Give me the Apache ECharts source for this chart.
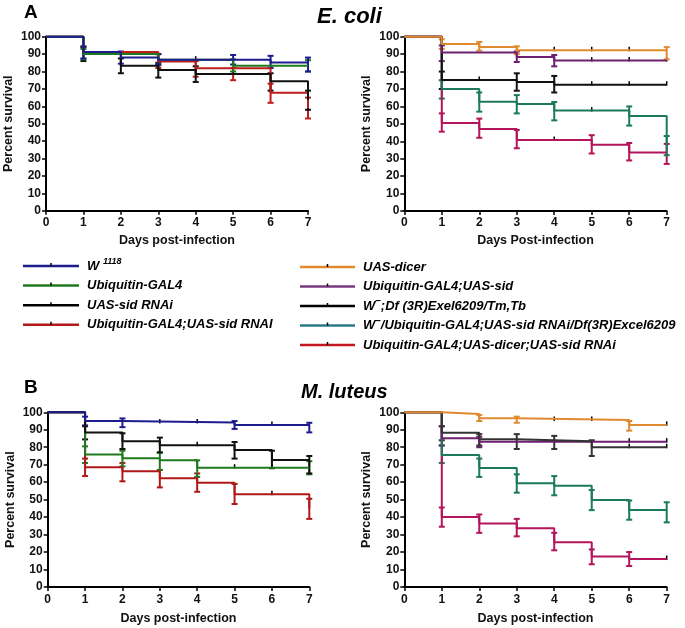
<!DOCTYPE html>
<html><head><meta charset="utf-8">
<script src="https://cdn.jsdelivr.net/npm/echarts/dist/echarts.min.js"></script>
<style>html,body{margin:0;padding:0;background:#fff}#c{width:685px;height:628px}</style>
</head><body><div id="c"></div>
<script>
// ---------- DATA ----------
const dayTicks = [0,1,2,3,4,5,6,7];
const yTicks = [0,10,20,30,40,50,60,70,80,90,100];

// Panel A left (E. coli)
const A_W1118 = [[0,100],[1,91.2],[2,88.1],[3,86.8],[6,85.2],[7,85.2]];
const A_W1118_err = [[1,87.5,94.5],[2,84.5,91.5],[3,84,90],[5,84,89.5],[6,82,89],[7,80,88]];
const A_W1118_cens = [4];
const A_UbiGal4 = [[0,100],[1,90],[3,86.7],[5,83.3],[7,83.3]];
const A_UbiGal4_err = [[1,87,93],[3,83.5,90],[5,80,87],[7,80,86.5]];
const A_UbiGal4_cens = [];
const A_UASsid = [[0,100],[1,90],[2,83.3],[3,80.8],[4,78.6],[6,74.4],[7,63.6]];
const A_UASsid_err = [[1,86,94],[2,79,87.5],[3,76.5,85],[4,74,83],[6,69,79],[7,58,69]];
const A_UASsid_cens = [5];
const A_UbiSid = [[0,100],[1,91.2],[3,85.8],[4,81.8],[6,67.8],[7,59]];
const A_UbiSid_err = [[3,82,90],[4,77,86],[5,75,82],[6,62,73],[7,53,65]];
const A_UbiSid_cens = [];

// Panel A right (E. coli)
const A_Dicer = [[0,100],[1,95.8],[2,94.1],[3,92.2],[7,92.2]];
const A_Dicer_err = [[1,93,98.5],[2,92,97],[3,90,94.5],[7,87,94]];
const A_Dicer_cens = [4,5,6];
const A_UbiUASsid = [[0,100],[1,91],[3,88.4],[4,86.3],[7,86.3]];
const A_UbiUASsid_err = [[1,86,95],[3,85.5,91.5],[4,83,89.5]];
const A_UbiUASsid_cens = [5,6,7];
const A_Df = [[0,100],[1,75.2],[3,74],[4,72.5],[7,72.5]];
const A_Df_err = [[1,70,80],[3,69,79],[4,68,77.5]];
const A_Df_cens = [2,5,6,7];
const A_WUbiDf = [[0,100],[1,70],[2,62.7],[3,61.4],[4,57.6],[6,54.5],[7,37.5]];
const A_WUbiDf_err = [[1,64.5,75],[2,57,68],[3,56,66.5],[4,52,62.5],[6,49,60],[7,32,43]];
const A_WUbiDf_cens = [5];
const A_UbiDicerSid = [[0,100],[1,50.5],[2,47],[3,40.7],[5,38],[6,33.6],[7,33.6]];
const A_UbiDicerSid_err = [[1,45.5,56],[2,42,53],[3,36,46.5],[5,33,43.5],[6,29,39],[7,27,38.5]];
const A_UbiDicerSid_cens = [4];

// Panel B left (M. luteus)
const B_W1118 = [[0,100],[1,95],[2,94.1],[5,92.7],[7,92.7]];
const B_W1118_err = [[1,92.5,97.5],[2,91.5,96.5],[5,90.5,95],[7,88.5,94]];
const B_W1118_cens = [3,4,6];
const B_UbiGal4 = [[0,100],[1,75.8],[2,73.7],[3,72.5],[4,68.3],[7,68.3]];
const B_UbiGal4_err = [[1,71,80.5],[2,69,78],[3,67,77],[4,63,72.5],[7,64.5,72]];
const B_UbiGal4_cens = [5,6];
const B_UASsid = [[0,100],[1,88.4],[2,83.4],[3,81.1],[5,78.4],[6,72.7],[7,72.7]];
const B_UASsid_err = [[1,84.5,92],[2,79,88],[3,77,85.5],[5,73.5,83],[6,68,78],[7,65,75]];
const B_UASsid_cens = [4];
const B_UbiSid = [[0,100],[1,68.5],[2,66.2],[3,62.2],[4,59.7],[5,53.1],[7,45]];
const B_UbiSid_err = [[1,63.5,73.5],[2,60.5,71],[3,57,67],[4,54.5,65],[5,47.5,59],[7,39,50.5]];
const B_UbiSid_cens = [6];

// Panel B right (M. luteus)
const B_Dicer = [[0,100],[1,99],[2,96.6],[3,95.6],[6,92.8],[7,92.8]];
const B_Dicer_err = [[2,95,98.5],[3,94,97.5],[6,89.5,95]];
const B_Dicer_cens = [4,5,7];
const B_UbiUASsid = [[0,100],[1,85.1],[2,83.2],[7,83.2]];
const B_UbiUASsid_err = [[1,81,92],[2,80,86]];
const B_UbiUASsid_cens = [6,7];
const B_Df = [[0,100],[1,88.3],[2,84.6],[3,83.5],[5,80],[7,80]];
const B_Df_err = [[1,84,92],[2,81,87.5],[3,79,87.5],[4,79,86.5],[5,75,84]];
const B_Df_cens = [6,7];
const B_WUbiDf = [[0,100],[1,75.6],[2,68.1],[3,59.4],[4,58],[5,49.8],[6,44.1],[7,44.1]];
const B_WUbiDf_err = [[1,71,81],[2,63,73.5],[3,54,64.5],[4,52.5,63.5],[5,44,55.5],[6,38.5,49.5],[7,37,48.5]];
const B_WUbiDf_cens = [];
const B_UbiDicerSid = [[0,100],[1,40],[2,36.3],[3,33.6],[4,25.6],[5,17.4],[6,16],[7,16]];
const B_UbiDicerSid_err = [[1,34.5,45.5],[2,31,41.5],[3,29,39],[4,21,31],[5,13,21.5],[6,12,20]];
const B_UbiDicerSid_cens = [7];

const leftLegend = ['W {sup|1118}','Ubiquitin-GAL4','UAS-sid RNAi','Ubiquitin-GAL4;UAS-sid RNAI'];
const rightLegend = ['UAS-dicer','Ubiquitin-GAL4;UAS-sid','W{dash|–};Df (3R)Exel6209/Tm,Tb',
  'W{dash|–}/Ubiquitin-GAL4;UAS-sid RNAi/Df(3R)Excel6209','Ubiquitin-GAL4;UAS-dicer;UAS-sid RNAi'];

// ---------- STYLE ----------
const C = {blue:'#1c1c8e', green:'#1f7a1f', black:'#111111', red:'#bf1c1c',
  orange:'#df8a2e', purple:'#6e1f70', black2:'#222222', teal:'#1b7a5a', crimson:'#b3145c'};
const leftLegColors = [C.blue, C.green, '#000', '#b31a1a'];
const rightLegColors = ['#e08a30', '#7a3a80', '#000', '#2a7a8a', '#c0181e'];

const grids = [
  {left:46, top:36.7, width:262, height:174},
  {left:404.3, top:36.7, width:262.4, height:174.3},
  {left:47.7, top:412.3, width:261.6, height:174.7},
  {left:404.3, top:412.3, width:262.4, height:174.7}
];
const xNames = ['Days post-infection','Days Post-infection','Days post-infection','Days post-infection'];
const FONT = '"Liberation Sans", Arial, sans-serif';

function valueAt(pts, d){ let v = pts[0][1]; for(const p of pts){ if(p[0] <= d) v = p[1]; } return v; }

const series = [];
function km(g, color, pts, err, cens){
  series.push({type:'line', xAxisIndex:g, yAxisIndex:g, data:pts, step:'end', showSymbol:false,
    clip:false, lineStyle:{color, width:2}, itemStyle:{color}, silent:true});
  series.push({type:'custom', xAxisIndex:g, yAxisIndex:g, data:err, clip:false, silent:true,
    encode:{x:0, y:[1,2]},
    renderItem(params, api){
      const x = api.value(0), p1 = api.coord([x, api.value(1)]), p2 = api.coord([x, api.value(2)]);
      const st = {stroke:color, lineWidth:2};
      return {type:'group', children:[
        {type:'line', shape:{x1:p1[0], y1:p1[1], x2:p2[0], y2:p2[1]}, style:st},
        {type:'line', shape:{x1:p1[0]-3, y1:p1[1], x2:p1[0]+3, y2:p1[1]}, style:st},
        {type:'line', shape:{x1:p2[0]-3, y1:p2[1], x2:p2[0]+3, y2:p2[1]}, style:st}
      ]};
    }});
  series.push({type:'custom', xAxisIndex:g, yAxisIndex:g, data:cens.map(d=>[d, valueAt(pts,d)]),
    clip:false, silent:true, encode:{x:0, y:1},
    renderItem(params, api){
      const p = api.coord([api.value(0), api.value(1)]);
      return {type:'line', shape:{x1:p[0], y1:p[1]-3.5, x2:p[0], y2:p[1]+1}, style:{stroke:'#000', lineWidth:1.5}};
    }});
}
// Panel A left
km(0, C.red, A_UbiSid, A_UbiSid_err, A_UbiSid_cens);
km(0, C.black, A_UASsid, A_UASsid_err, A_UASsid_cens);
km(0, C.green, A_UbiGal4, A_UbiGal4_err, A_UbiGal4_cens);
km(0, C.blue, A_W1118, A_W1118_err, A_W1118_cens);
// Panel A right
km(1, C.crimson, A_UbiDicerSid, A_UbiDicerSid_err, A_UbiDicerSid_cens);
km(1, C.teal, A_WUbiDf, A_WUbiDf_err, A_WUbiDf_cens);
km(1, C.black, A_Df, A_Df_err, A_Df_cens);
km(1, C.purple, A_UbiUASsid, A_UbiUASsid_err, A_UbiUASsid_cens);
km(1, C.orange, A_Dicer, A_Dicer_err, A_Dicer_cens);
// Panel B left
km(2, '#b01818', B_UbiSid, B_UbiSid_err, B_UbiSid_cens);
km(2, C.green, B_UbiGal4, B_UbiGal4_err, B_UbiGal4_cens);
km(2, C.black, B_UASsid, B_UASsid_err, B_UASsid_cens);
km(2, C.blue, B_W1118, B_W1118_err, B_W1118_cens);
// Panel B right
km(3, C.crimson, B_UbiDicerSid, B_UbiDicerSid_err, B_UbiDicerSid_cens);
km(3, C.teal, B_WUbiDf, B_WUbiDf_err, B_WUbiDf_cens);
km(3, C.purple, B_UbiUASsid, B_UbiUASsid_err, B_UbiUASsid_cens);
km(3, '#333333', B_Df, B_Df_err, B_Df_cens);
km(3, C.orange, B_Dicer, B_Dicer_err, B_Dicer_cens);

const axisLine = {show:true, lineStyle:{color:'#000', width:2}};
const axisTick = {show:true, length:4, lineStyle:{color:'#000', width:1.5}};
const labelStyle = {color:'#111', fontWeight:'bold', fontSize:12, fontFamily:FONT};

const xAxis = grids.map((g,i)=>({type:'value', gridIndex:i, min:dayTicks[0], max:dayTicks[dayTicks.length-1], interval:1,
  axisLine, axisTick, splitLine:{show:false}, axisLabel:{...labelStyle, margin: i<2 ? 6 : 7},
  name:xNames[i], nameLocation:'middle', nameGap: i<2 ? 23 : 25,
  nameTextStyle:{color:'#111', fontWeight:'bold', fontSize:12.5, fontFamily:FONT}}));
const yAxis = grids.map((g,i)=>({type:'value', gridIndex:i, min:yTicks[0], max:yTicks[yTicks.length-1], interval:10,
  axisLine, axisTick, splitLine:{show:false}, axisLabel:{...labelStyle, margin:5},
  name:'Percent survival', nameLocation:'middle', nameGap:31,
  nameTextStyle:{color:'#111', fontWeight:'bold', fontSize:12.5, fontFamily:FONT}}));

const graphic = [];
const titleFont = (sz, it) => `${it?'italic ':''}bold ${sz}px ${FONT}`;
graphic.push({type:'text', left:24, top:3, style:{text:'A', font:titleFont(19), fill:'#000'}});
graphic.push({type:'text', left:317, top:6, style:{text:'E. coli', font:titleFont(22,true), fill:'#000'}});
graphic.push({type:'text', left:24, top:378, style:{text:'B', font:titleFont(19), fill:'#000'}});
graphic.push({type:'text', left:301, top:382, style:{text:'M. luteus', font:titleFont(20,true), fill:'#000'}});

const rich = {
  sup:{fontSize:9, fontWeight:'bold', fontStyle:'italic', fontFamily:FONT, padding:[0,0,8,0]},
  dash:{fontSize:10, fontWeight:'bold', fontFamily:FONT, padding:[0,0,9,0]}
};
function legendCol(items, colors, x1, x2, tx, y0, dy){
  items.forEach((t,i)=>{
    const y = y0 + i*dy;
    graphic.push({type:'line', shape:{x1, y1:y, x2, y2:y}, style:{stroke:colors[i], lineWidth:2.5}});
    const xm = (x1+x2)/2;
    graphic.push({type:'line', shape:{x1:xm, y1:y-3, x2:xm, y2:y}, style:{stroke:'#000', lineWidth:1.5}});
    graphic.push({type:'text', x:tx, y:y, style:{text:t, rich, font:titleFont(13,true), fill:'#000', verticalAlign:'middle', align:'left'}});
  });
}
legendCol(leftLegend, leftLegColors, 23, 79, 87, 266, 19.6);
legendCol(rightLegend, rightLegColors, 300, 355, 363, 267, 19.5);

const chart = echarts.init(document.getElementById('c'), null, {renderer:'canvas'});
chart.setOption({animation:false, backgroundColor:'#fff', grid:grids, xAxis, yAxis, series, graphic});
</script></body></html>
